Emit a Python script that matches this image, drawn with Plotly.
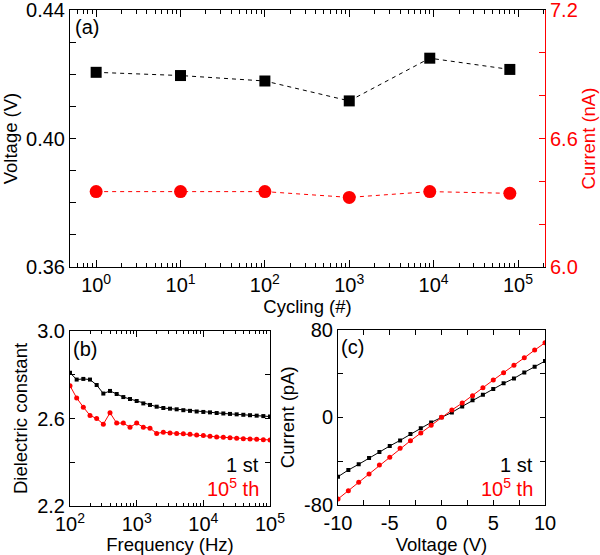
import plotly.graph_objects as go

# ---------- data ----------
# (a) cycling
cycles = [1, 10, 100, 1000, 9000, 80000]
voltage_a = [0.4206, 0.4196, 0.4179, 0.4117, 0.4250, 0.4215]
current_a = [6.352, 6.352, 6.352, 6.325, 6.352, 6.344]

# (b) dielectric constant vs frequency (10 points per decade, 1e2..1e5)
freq_exp = [2.0, 2.1, 2.2, 2.3, 2.4, 2.5, 2.6, 2.7, 2.8, 2.9, 3.0, 3.1, 3.2, 3.3, 3.4, 3.5,
            3.6, 3.7, 3.8, 3.9, 4.0, 4.1, 4.2, 4.3, 4.4, 4.5, 4.6, 4.7, 4.8, 4.9, 5.0]
freq = [10 ** e for e in freq_exp]
eps_1st = [2.809, 2.778, 2.781, 2.778, 2.753, 2.714, 2.726, 2.712, 2.698, 2.689, 2.680,
           2.669, 2.662, 2.654, 2.648, 2.645, 2.642, 2.638, 2.635, 2.632, 2.630, 2.628,
           2.625, 2.623, 2.621, 2.619, 2.617, 2.615, 2.613, 2.611, 2.609]
eps_1e5 = [2.750, 2.694, 2.652, 2.614, 2.600, 2.574, 2.626, 2.579, 2.579, 2.560, 2.579,
           2.560, 2.556, 2.532, 2.537, 2.534, 2.532, 2.530, 2.528, 2.525, 2.522, 2.519,
           2.516, 2.514, 2.512, 2.510, 2.508, 2.506, 2.505, 2.503, 2.502]

# (c) I-V
volt_c = list(range(-10, 11))
cur_1st = [-54.2, -48.1, -42.9, -37.2, -31.7, -26.2, -21.1, -15.3, -10.1, -4.7, 0.0,
           4.4, 9.9, 15.4, 20.5, 25.7, 30.9, 35.4, 40.9, 46.0, 51.2]
cur_1e5 = [-74.5, -66.9, -59.3, -51.7, -43.5, -36.5, -28.3, -21.4, -14.4, -7.4, 0.0,
           6.6, 12.9, 19.6, 26.9, 33.9, 40.5, 47.3, 54.2, 61.2, 67.9]

# tick definitions (labelled ticks; unlabelled ticks come from minor spacing)
a_x_ticks = [1, 10, 100, 1000, 10000, 100000]
a_x_text = ["10<sup>0</sup>", "10<sup>1</sup>", "10<sup>2</sup>", "10<sup>3</sup>",
            "10<sup>4</sup>", "10<sup>5</sup>"]
a_y_ticks = [0.36, 0.40, 0.44]
a_y_text = ["0.36", "0.40", "0.44"]
a_y_minor = 0.01
a_y2_ticks = [6.0, 6.6, 7.2]
a_y2_text = ["6.0", "6.6", "7.2"]
a_y2_minor = 0.2
b_x_ticks = [100, 1000, 10000, 100000]
b_x_text = ["10<sup>2</sup>", "10<sup>3</sup>", "10<sup>4</sup>", "10<sup>5</sup>"]
b_y_ticks = [2.2, 2.6, 3.0]
b_y_text = ["2.2", "2.6", "3.0"]
b_y_minor = 0.2
c_x_ticks = [-10, -5, 0, 5, 10]
c_x_text = ["-10", "-5", "0", "5", "10"]
c_x_minor = 2.5
c_y_ticks = [-80, 0, 80]
c_y_text = ["-80", "0", "80"]
c_y_minor = 40

FONT = "Liberation Sans, Arial, Helvetica, sans-serif"
RED = "#ff0000"
W, H = 600, 555

def px_x(a, b):
    return [a / W, b / W]

def px_y(top, bottom):
    return [1 - bottom / H, 1 - top / H]

def minor(dtick, length, color="black"):
    return dict(ticks="inside", ticklen=length, dtick=dtick, tickcolor=color, showgrid=False)

fig = go.Figure()

# (a)
fig.add_trace(go.Scatter(x=cycles, y=voltage_a, mode="lines+markers",
                         line=dict(color="black", width=1, dash="4px,4px"),
                         marker=dict(symbol="square", size=11, color="black"),
                         xaxis="x", yaxis="y", showlegend=False))
fig.add_trace(go.Scatter(x=cycles, y=current_a, mode="lines+markers",
                         line=dict(color=RED, width=1, dash="4px,4px"),
                         marker=dict(symbol="circle", size=13, color=RED),
                         xaxis="x", yaxis="y2", showlegend=False))
# (b)
fig.add_trace(go.Scatter(x=freq, y=eps_1st, mode="lines+markers",
                         line=dict(color="black", width=1),
                         marker=dict(symbol="square", size=4, color="black"),
                         xaxis="x2", yaxis="y3", showlegend=False))
fig.add_trace(go.Scatter(x=freq, y=eps_1e5, mode="lines+markers",
                         line=dict(color=RED, width=1),
                         marker=dict(symbol="circle", size=5, color=RED),
                         xaxis="x2", yaxis="y3", showlegend=False))
# (c)
fig.add_trace(go.Scatter(x=volt_c, y=cur_1st, mode="lines+markers",
                         line=dict(color="black", width=1),
                         marker=dict(symbol="square", size=4, color="black"),
                         xaxis="x3", yaxis="y4", showlegend=False))
fig.add_trace(go.Scatter(x=volt_c, y=cur_1e5, mode="lines+markers",
                         line=dict(color=RED, width=1),
                         marker=dict(symbol="circle", size=5, color=RED),
                         xaxis="x3", yaxis="y4", showlegend=False))

tickfont = dict(family=FONT, size=20, color="black")
titlefont = dict(family=FONT, size=18.5, color="black")
common = dict(showline=True, linecolor="black", linewidth=1, ticks="inside",
              tickcolor="black", showgrid=False, zeroline=False, tickfont=tickfont,
              automargin=False, ticklabeloverflow="allow")

fig.update_layout(
    width=W, height=H, margin=dict(l=0, r=0, t=0, b=0),
    paper_bgcolor="white", plot_bgcolor="white",
    font=dict(family=FONT, size=18, color="black"),
    xaxis=dict(domain=px_x(70, 545), anchor="y", type="log", range=[-0.31, 5.32],
               tickvals=a_x_ticks, ticktext=a_x_text, ticklen=7, mirror="ticks",
               minor=minor("D1", 4),
               title=dict(text="Cycling (#)", font=titlefont, standoff=0), **common),
    yaxis=dict(domain=px_y(10, 267), anchor="x", range=[0.36, 0.44],
               tickvals=a_y_ticks, ticktext=a_y_text, ticklen=6, minor=minor(a_y_minor, 6),
               title=dict(text="Voltage (V)", font=titlefont, standoff=4), **common),
    yaxis2=dict(overlaying="y", side="right", anchor="x", range=[6.0, 7.2],
                tickvals=a_y2_ticks, ticktext=a_y2_text, ticklen=6, automargin=False,
                ticklabeloverflow="allow", minor=minor(a_y2_minor, 6, RED),
                showline=True, linecolor=RED, linewidth=1, ticks="inside", tickcolor=RED,
                showgrid=False, zeroline=False,
                tickfont=dict(family=FONT, size=20, color=RED),
                title=dict(text="Current (nA)", font=dict(family=FONT, size=18.5, color=RED),
                           standoff=4)),
    xaxis2=dict(domain=px_x(70, 270), anchor="y3", type="log", range=[2, 5],
                tickvals=b_x_ticks, ticktext=b_x_text, ticklen=6, mirror="ticks",
                minor=minor("D1", 3),
                title=dict(text="Frequency (Hz)", font=titlefont, standoff=2), **common),
    yaxis3=dict(domain=px_y(331, 506), anchor="x2", range=[2.2, 3.0],
                tickvals=b_y_ticks, ticktext=b_y_text, ticklen=5, mirror="ticks",
                minor=minor(b_y_minor, 5),
                title=dict(text="Dielectric constant", font=titlefont, standoff=4), **common),
    xaxis3=dict(domain=px_x(338, 545), anchor="y4", range=[-10, 10],
                tickvals=c_x_ticks, ticktext=c_x_text, ticklen=5, mirror="ticks",
                minor=minor(c_x_minor, 5),
                title=dict(text="Voltage (V)", font=titlefont, standoff=2), **common),
    yaxis4=dict(domain=px_y(329.5, 505), anchor="x3", range=[-80, 80],
                tickvals=c_y_ticks, ticktext=c_y_text, ticklen=5, mirror="ticks",
                minor=minor(c_y_minor, 5),
                title=dict(text="Current (pA)", font=titlefont, standoff=4), **common),
)

ann_font = dict(family=FONT, size=20, color="black")
annotations = [
    dict(text="(a)", x=73 / W, y=1 - 14 / H, xanchor="left", yanchor="top", font=ann_font),
    dict(text="(b)", x=71 / W, y=1 - 336 / H, xanchor="left", yanchor="top", font=ann_font),
    dict(text="(c)", x=339 / W, y=1 - 334 / H, xanchor="left", yanchor="top", font=ann_font),
    dict(text="1 st", x=261 / W, y=1 - 465 / H, xanchor="right", yanchor="middle", font=ann_font),
    dict(text="10<sup>5</sup> th", x=261 / W, y=1 - 487 / H, xanchor="right", yanchor="middle",
         font=dict(family=FONT, size=20, color=RED)),
    dict(text="1 st", x=535 / W, y=1 - 465 / H, xanchor="right", yanchor="middle", font=ann_font),
    dict(text="10<sup>5</sup> th", x=535 / W, y=1 - 487 / H, xanchor="right", yanchor="middle",
         font=dict(family=FONT, size=20, color=RED)),
]
for a in annotations:
    a.update(xref="paper", yref="paper", showarrow=False)
fig.update_layout(annotations=annotations)

fig.write_html(
    "out.html",
    config={"displayModeBar": False},
    post_script="document.body.style.margin='0';document.body.style.overflow='hidden';",
)
